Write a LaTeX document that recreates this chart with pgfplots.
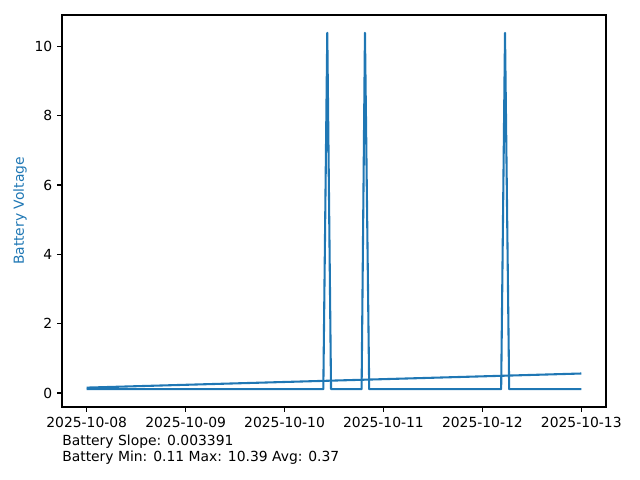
\documentclass[border=0pt]{standalone}
\usepackage{pgfplots}
\pgfplotsset{compat=1.18}
\usepackage{fontspec}
\setmainfont{DejaVu Sans}
\definecolor{tabblue}{HTML}{1F77B4}
\begin{document}
\begin{tikzpicture}
\useasboundingbox (-44.64pt,-52.56pt) rectangle (416.16pt,293.04pt);
\begin{axis}[
  at={(0pt,0pt)}, anchor=south west,
  scale only axis, width=391.68pt, height=282.24pt,
  xmin=-0.25, xmax=5.25, ymin=-0.404, ymax=10.904,
  xtick={0,1,2,3,4,5},
  xticklabels={2025-10-08,2025-10-09,2025-10-10,2025-10-11,2025-10-12,2025-10-13},
  ytick={0,2,4,6,8,10},
  tick align=outside, tick pos=left,
  major tick length=3.5pt,
  axis line style={line width=0.8pt},
  every tick/.style={black, line width=0.8pt},
  tick label style={font=\fontsize{10}{12}\selectfont},
  /pgf/number format/assume math mode=true,
  ylabel={Battery Voltage},
  every axis y label/.style={at={(axis description cs:0,0.5)}, xshift=-30.24pt, rotate=90, anchor=center, font=\fontsize{10}{12}\selectfont, color=tabblue},
]
\addplot[color=tabblue, line width=1.5pt, line join=round, mark=none] coordinates {
  (0,0.11) (2.392,0.11) (2.432,10.39) (2.470,0.11)
  (2.779,0.11) (2.813,10.39) (2.856,0.11)
  (4.190,0.11) (4.229,10.39) (4.271,0.11)
  (5,0.11)
};
\addplot[color=tabblue, line width=1.5pt, mark=none] coordinates {
  (0,0.155) (5,0.562)
};
\end{axis}
\node[anchor=base west, inner sep=0pt, font=\fontsize{10}{12}\selectfont] at (0pt,-28.08pt) {Battery Slope: 0.003391};
\node[anchor=base west, inner sep=0pt, font=\fontsize{10}{12}\selectfont] at (0pt,-39.4pt) {Battery Min: 0.11 Max: 10.39 Avg: 0.37};
\end{tikzpicture}
\end{document}
